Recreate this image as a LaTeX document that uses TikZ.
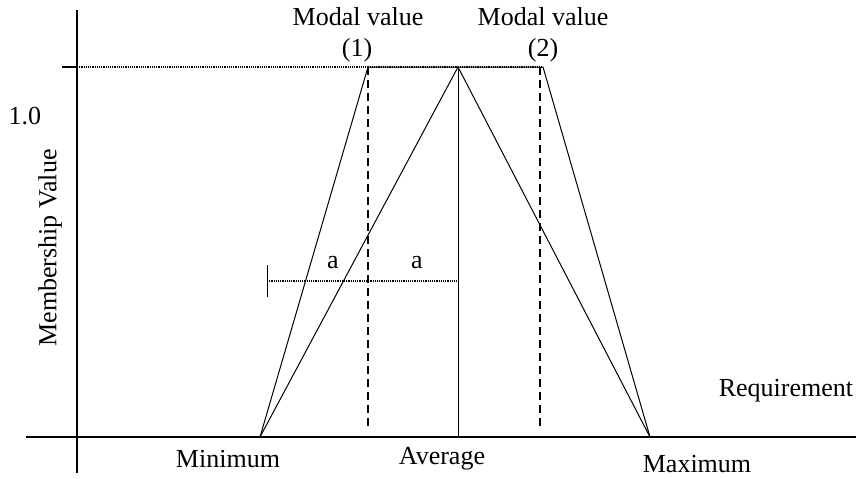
\documentclass[tikz,border=0pt]{standalone}
\usepackage{fontspec}
\setmainfont{Liberation Serif}
\begin{document}
\begin{tikzpicture}[x=0.5pt,y=0.5pt,font=\fontsize{13}{15}\selectfont,
	axis/.style={line width=1pt},
	edge/.style={line width=0.5pt},
	guide/.style={line width=0.9pt,dash pattern=on 0.6pt off 0.5pt},
	modal/.style={line width=0.7pt,dash pattern=on 4pt off 2.5pt}]
	\useasboundingbox (-77,-41) rectangle (779,437);
	% Axes
	\coordinate (ytop) at (0,427);
	\coordinate (ybot) at (0,-36);
	\coordinate (xleft) at (-51,0);
	\coordinate (xright) at (779,0);
	\draw[axis] (ybot) -- (ytop);
	\draw[axis] (xleft) -- (xright);
	% Level 1.0
	\coordinate (onetick) at (-15,370);
	\coordinate (onezero) at (0,370);
	\draw[axis] (onetick) -- (onezero);
	% Corner points
	\coordinate (min) at (183,0);
	\coordinate (avg) at (381,0);
	\coordinate (max) at (573,0);
	\coordinate (m1) at (291,370);
	\coordinate (peak) at (381,370);
	\coordinate (m2) at (466,370);
	\draw[guide] (onezero) -- (peak) -- (m2);
	\draw[guide] (min) -- (max);
	% Trapezoids and triangle
	\draw[edge] (min) -- (m1) -- (peak);
	\draw[edge] (min) -- (peak) -- (max);
	\draw[edge] (peak) -- (m2) -- (max);
	\draw[edge] (peak) -- (avg);
	% Modal values
	\coordinate (m1foot) at (291,9);
	\coordinate (m2top) at (463,370);
	\coordinate (m2foot) at (463,9);
	\draw[modal] (m1) -- (m1foot);
	\draw[modal] (m2top) -- (m2foot);
	% Spread a
	\coordinate (aleft) at (190,156);
	\coordinate (aright) at (381,156);
	\coordinate (tickup) at (190,172);
	\coordinate (tickdown) at (190,140);
	\draw[guide] (aleft) -- (aright);
	\draw[edge] (tickdown) -- (tickup);
	\node (a1) at (256,174) {a};
	\node (a2) at (340,174) {a};
	% Labels
	\node (mv1) at (281,420) {Modal value};
	\node (n1) at (280,387) {(1)};
	\node (mv2) at (466,420) {Modal value};
	\node (n2) at (466,387) {(2)};
	\node (lone) at (-52,321) {1.0};
	\node[rotate=90] (ylab) at (-27,189) {Membership Value};
	\node (lmin) at (151,-22) {Minimum};
	\node (lavg) at (365,-22) {Average};
	\node (lmax) at (620,-27) {Maximum};
	\node (lreq) at (709,46) {Requirement};
\end{tikzpicture}
\end{document}
